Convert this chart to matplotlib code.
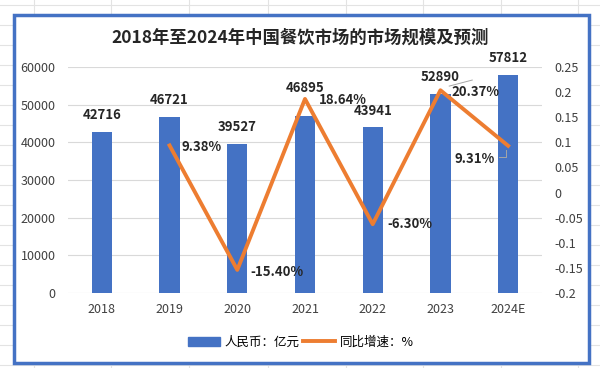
import numpy as np
import matplotlib.pyplot as plt
from matplotlib.patches import Rectangle, Patch
from matplotlib.lines import Line2D

plt.rcParams['font.family'] = ['Noto Sans CJK SC', 'DejaVu Sans']

# 数据
years = ['2018', '2019', '2020', '2021', '2022', '2023', '2024E']
scale = [42716, 46721, 39527, 46895, 43941, 52890, 57812]  # 亿元
growth = [None, 0.0938, -0.1540, 0.1864, -0.0630, 0.2037, 0.0931]
growth_labels = ['', '9.38%', '-15.40%', '18.64%', '-6.30%', '20.37%', '9.31%']

blue = '#4472C4'
orange = '#ED7D31'

fig = plt.figure(figsize=(6, 3.68), dpi=100)

# 表格背景线
for x in [34, 111, 189, 268, 346, 423, 501, 578]:
    fig.add_artist(Line2D([x / 600, x / 600], [0, 1], color='#e3e3e3', lw=0.8, zorder=0))
for y in range(5, 368, 20):
    fig.add_artist(Line2D([0, 1], [1 - y / 368, 1 - y / 368], color='#e3e3e3', lw=0.8, zorder=0))

# 图表区
fig.add_artist(Rectangle((14 / 600, 1 - 363 / 368), 575 / 600, 348 / 368,
                         transform=fig.transFigure, facecolor='white',
                         edgecolor=blue, lw=2.5, zorder=1))

ax = fig.add_axes([68 / 600, 1 - 293 / 368, 474 / 600, 226 / 368])
ax.set_zorder(2)
ax.patch.set_alpha(0)
x = np.arange(len(years))
ax.bar(x, scale, width=0.3, color=blue, zorder=2)
ax.set_ylim(0, 60000)
ax.set_xlim(-0.5, len(years) - 0.5)
ax.set_yticks(range(0, 60001, 10000))
ax.yaxis.grid(True, color='#d9d9d9', lw=0.8)
ax.set_axisbelow(True)
for s in ax.spines.values():
    s.set_visible(False)
ax.tick_params(length=0, labelsize=9, colors='#404040', pad=7)
ax.set_xticks(x)
ax.set_xticklabels(years)
ax.tick_params(axis='y', pad=9)

# 柱子数值标签
for i, v in enumerate(scale):
    up = 7400 if i == 3 else 4500
    ax.text(i, v + up, str(v), ha='center', va='center',
            fontsize=9.5, fontweight='bold', color='#262626')

ax2 = ax.twinx()
ax2.set_ylim(-0.2, 0.25)
ax2.set_yticks(np.arange(-0.2, 0.26, 0.05))
ax2.set_yticklabels(['-0.2', '-0.15', '-0.1', '-0.05', '0', '0.05', '0.1', '0.15', '0.2', '0.25'])
for s in ax2.spines.values():
    s.set_visible(False)
ax2.tick_params(length=0, labelsize=9, colors='#404040', pad=9)
gx = x[1:]
gy = growth[1:]
ax2.plot(gx, gy, color=orange, lw=2.8, zorder=3)

offsets = {1: (0.47, -0.004), 2: (0.59, -0.004), 3: (0.56, -0.002), 4: (0.55, 0.0),
           5: (0.52, -0.004), 6: (-0.5, -0.026)}
for i, (dx, dy) in offsets.items():
    ax2.text(i + dx, growth[i] + dy, growth_labels[i], ha='center', va='center',
             fontsize=9.5, fontweight='bold', color='#262626')

# 引导线
ax2.plot([5.13, 5.47], [0.212, 0.224], color='#a6a6a6', lw=0.7)
ax2.plot([5.87, 5.97, 5.97], [0.070, 0.070, 0.084], color='#a6a6a6', lw=0.7)

fig.text(0.5, 1 - 38 / 368, '2018年至2024年中国餐饮市场的市场规模及预测', fontsize=12.5,
         fontweight='bold', color='#262626', ha='center', va='center')

# 图例
handles = [Patch(color=blue), Line2D([0], [0], color=orange, lw=2.8)]
fig.legend(handles, ['人民币：亿元', '同比增速：%'], loc='center',
           bbox_to_anchor=(301 / 600, 1 - 342 / 368), ncol=2, frameon=False,
           fontsize=9, handlelength=2.5, columnspacing=0.3, handletextpad=0.4)

fig.savefig('out.png', dpi=100)
